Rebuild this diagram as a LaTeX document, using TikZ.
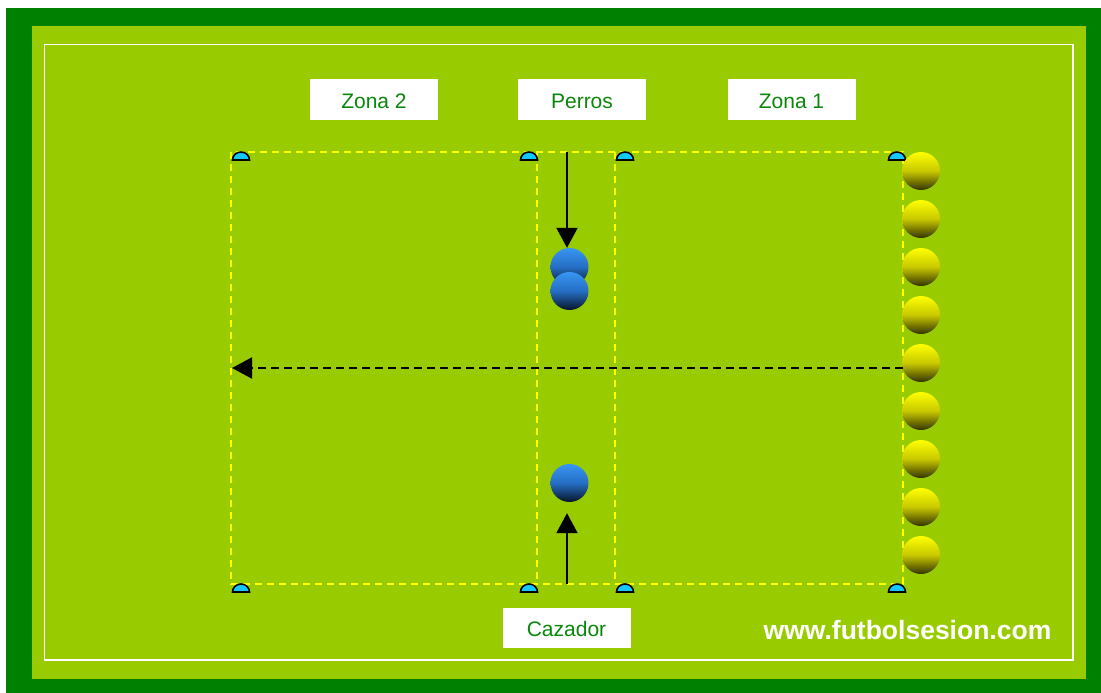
\documentclass[tikz,border=0pt]{standalone}
\usepackage{fontspec}
\setmainfont{Liberation Sans}
\usetikzlibrary{arrows.meta}
\definecolor{dkgreen}{RGB}{0,128,0}
\definecolor{field}{RGB}{153,204,0}
\definecolor{txtgreen}{RGB}{10,135,10}
\definecolor{conecol}{RGB}{20,200,255}
\definecolor{zoneyel}{RGB}{255,255,0}
\definecolor{bluetop}{RGB}{55,150,245}
\definecolor{bluemid}{RGB}{38,110,195}
\definecolor{bluebot}{RGB}{8,20,40}
\definecolor{yeltop}{RGB}{255,255,0}
\definecolor{yelmid}{RGB}{200,200,0}
\definecolor{yelbot}{RGB}{50,50,0}
\begin{document}
\begin{tikzpicture}[x=1pt,y=-1pt,
  zone/.style={zoneyel, line width=2pt, dash pattern=on 7pt off 5pt},
  labelbox/.style={fill=white, minimum width=128pt, minimum height=40pt, inner sep=0pt,
    text height=17pt, text depth=0pt,
    text=txtgreen, font=\fontsize{21}{25}\selectfont},
  blueplayer/.style={circle, inner sep=0pt, minimum size=38pt,
    top color=bluetop, bottom color=bluebot, middle color=bluemid},
  yelplayer/.style={circle, inner sep=0pt, minimum size=38pt,
    top color=yeltop, bottom color=yelbot, middle color=yelmid},
  movearrow/.style={black, line width=2pt, -{Triangle[length=20pt,width=21pt]}},
  cone/.style={fill=conecol, draw=black, line width=1.6pt}
]
\useasboundingbox (0,0) rectangle (1101,693);
\fill[white] (0,0) rectangle (1101,693);
\fill[dkgreen] (6,8) rectangle (1101,693);
\fill[field] (32,26) rectangle (1086,679);
\draw[white, line width=1.5pt] (44.5,44.5) rectangle (1073,660);

% zones
\draw[zone] (231,152) rectangle (903,584);
\draw[zone] (537,152) -- (537,584);
\draw[zone] (615,152) -- (615,584);

% cones
\foreach \cx in {241,529,625,897}{
  \draw[cone] (\cx-8.5,160) arc[start angle=180, end angle=360, x radius=8.5, y radius=8] -- cycle;
  \draw[cone] (\cx-8.5,592) arc[start angle=180, end angle=360, x radius=8.5, y radius=8] -- cycle;
}

% labels
\node[labelbox] (zona2) at (374,99.5) {Zona 2};
\node[labelbox] (perros) at (582,99.5) {Perros};
\node[labelbox] (zona1) at (791.5,99.5) {Zona 1};
\node[labelbox] (cazador) at (566.5,628) {Cazador};
\node[text=white, font=\bfseries\fontsize{26.5}{30}\selectfont] (web) at (907.5,630) {www.futbolsesion.com};

% players
\node[blueplayer] (perroA) at (569.5,267) {};
\node[blueplayer] (perroB) at (569.5,291) {};
\node[blueplayer] (caz) at (569.5,483) {};
\foreach \i in {0,...,8}{
  \node[yelplayer] (y\i) at (921,171+48*\i) {};
}

% arrows
\coordinate (pstart) at (567,152);
\coordinate (cstart) at (567,584);
\coordinate (dstart) at (903,368);
\coordinate (dend) at (232,368);
\draw[movearrow] (pstart) -- (pstart |- perroA.north);
\draw[movearrow, shorten >=11pt] (cstart) -- (cstart |- caz.south);
\draw[movearrow, dash pattern=on 8pt off 5pt] (dstart) -- (dend);
\end{tikzpicture}
\end{document}
